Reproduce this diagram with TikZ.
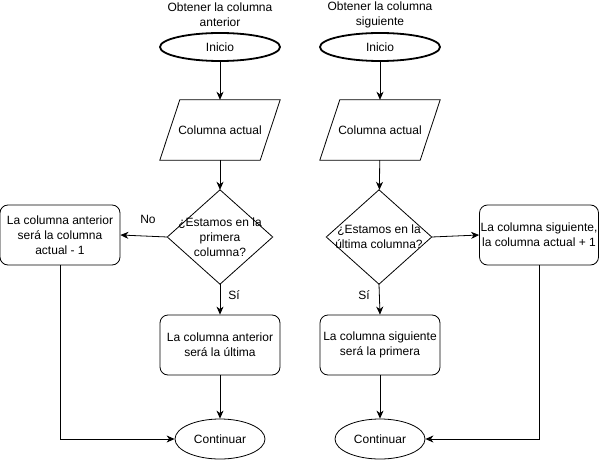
\documentclass[tikz,border=0pt]{standalone}
\usepackage{fontspec}
\setmainfont{Liberation Sans}
\usetikzlibrary{shapes.geometric,arrows.meta}
\begin{document}
\begin{tikzpicture}[x=1pt,y=-1pt,
  every node/.style={font=\fontsize{12}{15}\selectfont, align=center, inner sep=0pt},
  startnode/.style={ellipse, draw, line width=1.8pt, minimum width=120pt, minimum height=28pt},
  endnode/.style={ellipse, draw, line width=0.8pt, minimum width=90pt, minimum height=40pt},
  procbox/.style={rectangle, rounded corners=8pt, draw, line width=0.8pt, minimum width=120pt, minimum height=60pt},
  ioframe/.style={rectangle, minimum width=120pt, minimum height=60pt},
  decframe/.style={rectangle, minimum width=105pt, minimum height=94pt},
  shapeline/.style={line width=0.8pt, line join=miter},
  conn/.style={draw, line width=0.8pt, -{Stealth[length=8pt,width=7pt,inset=2.5pt]}},
  lbl/.style={font=\fontsize{12}{15}\selectfont}
]
\useasboundingbox[fill=white] (0,0) rectangle (601,462);

% ---------------- left flow ----------------
\node (t1) at (220,15) {Obtener la columna\\anterior};
\node[startnode] (s1) at (220,47) {Inicio};
\node[ioframe] (c1) at (220,130) {Columna actual};
\draw[shapeline] ([xshift=20pt]c1.north west) -- (c1.north east) -- ([xshift=-20pt]c1.south east) -- (c1.south west) -- cycle;
\node[decframe] (d1) at (220,237) {¿Estamos en la\\primera\\columna?};
\draw[shapeline] (d1.north) -- (d1.east) -- (d1.south) -- (d1.west) -- cycle;
\node[procbox] (a1) at (60,235) {La columna anterior\\será la columna\\actual - 1};
\node[procbox] (b1) at (220,345) {La columna anterior\\será la última};
\node[endnode] (e1) at (220,439) {Continuar};

\draw[conn] (s1) -- (c1);
\draw[conn] (c1) -- (d1);
\draw[conn] (d1.west) -- (a1.east);
\draw[conn] (d1.south) -- (b1.north);
\draw[conn] (b1) -- (e1);
\draw[conn] (a1.south) |- (e1.west);
\node[lbl] (no1) at (148,219) {No};
\node[lbl] (si1) at (234,295) {Sí};

% ---------------- right flow ----------------
\node (t2) at (380,15) {Obtener la columna\\siguiente};
\node[startnode] (s2) at (380,47) {Inicio};
\node[ioframe] (c2) at (380,130) {Columna actual};
\draw[shapeline] ([xshift=20pt]c2.north west) -- (c2.north east) -- ([xshift=-20pt]c2.south east) -- (c2.south west) -- cycle;
\node[decframe] (d2) at (379,237) {¿Estamos en la\\última columna?};
\draw[shapeline] (d2.north) -- (d2.east) -- (d2.south) -- (d2.west) -- cycle;
\node[procbox, minimum width=119pt] (a2) at (539,235) {La columna siguiente,\\la columna actual + 1};
\node[procbox] (b2) at (380,345) {La columna siguiente\\será la primera};
\node[endnode] (e2) at (380,439) {Continuar};

\draw[conn] (s2) -- (c2);
\draw[conn] (c2) -- (d2);
\draw[conn] (d2.east) -- (a2.west);
\draw[conn] (d2.south) -- (b2.north);
\draw[conn] (b2) -- (e2);
\draw[conn] (a2.south) |- (e2.east);
\node[lbl] (si2) at (364,295) {Sí};
\end{tikzpicture}
\end{document}
